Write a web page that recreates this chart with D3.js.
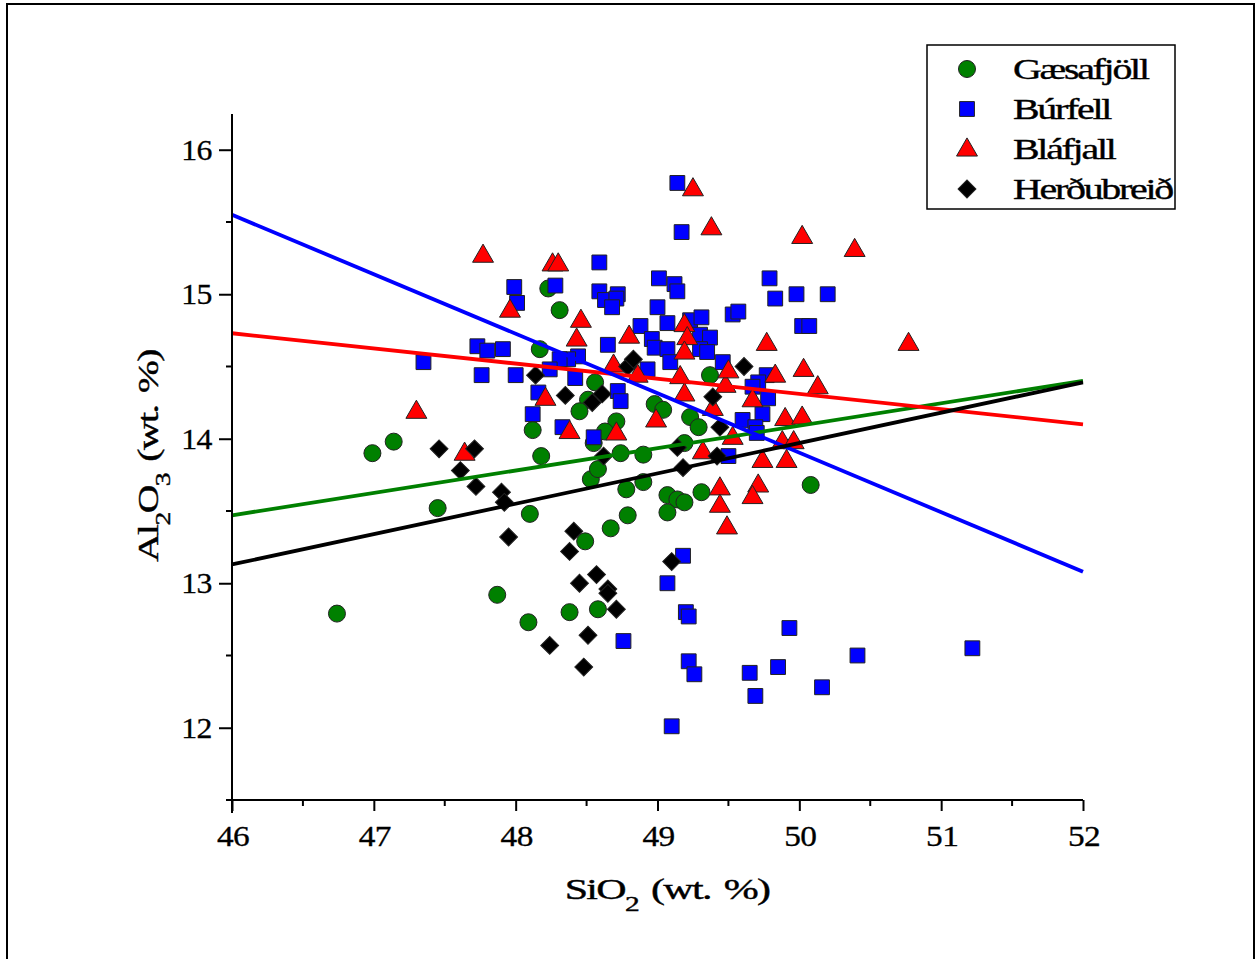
<!DOCTYPE html>
<html><head><meta charset="utf-8">
<script src="https://cdn.jsdelivr.net/npm/d3@7"></script>
<style>
body{margin:0;background:#fff;}
text{font-family:"Liberation Serif","Times New Roman",serif;fill:#000;}
</style></head>
<body><svg id="c" width="1257" height="959"></svg>
<script>
// ---- data (SiO2, Al2O3 wt.%) ----
const gaesafjollX = [46.74,46.99,47.14,47.45,47.87,48.09,48.10,48.12,48.18,48.17,48.23,48.31,48.38,48.58,48.49,48.67,48.79,48.78,48.53,48.58,48.90,49.07,49.14,49.19,49.07,49.31,48.56,48.51,48.45,48.71,48.63,48.55,48.74,48.90,48.98,49.04,49.23,49.29,49.37,49.19,50.08];
const gaesafjollY = [12.79,13.90,13.98,13.52,12.92,12.73,13.48,14.06,13.88,14.62,15.04,14.89,12.80,12.82,13.29,13.38,13.47,13.65,13.72,13.79,13.70,13.61,13.58,13.56,13.49,13.63,14.39,14.27,14.19,14.12,14.05,13.97,13.90,13.89,14.24,14.20,14.15,14.08,14.44,13.97,13.68];

const burfellX = [49.14,49.17,48.59,48.28,49.01,49.12,49.14,48.59,48.63,48.72,48.71,48.68,49.00,49.07,48.88,49.23,49.31,48.96,48.98,49.07,49.09,49.30,49.37,49.30,49.35,48.93,48.65,48.44,48.37,48.31,48.24,48.42,48.72,48.74,48.33,48.55,49.46,49.53,49.57,49.79,49.83,49.98,50.20,50.02,50.07,49.77,49.71,49.67,49.78,49.74,49.60,49.69,49.70,49.50,47.35,47.73,47.80,47.91,47.76,48.00,47.99,48.01,48.16,48.12,49.18,49.07,49.20,49.22,49.93,49.22,49.26,49.65,49.85,49.69,50.16,50.41,51.22,49.10,48.76];
const burfellY = [15.77,15.43,15.22,15.06,15.11,15.07,15.02,15.02,14.96,15.00,14.97,14.91,14.91,14.80,14.78,14.82,14.84,14.69,14.63,14.62,14.53,14.72,14.70,14.62,14.60,14.48,14.65,14.57,14.55,14.55,14.48,14.42,14.33,14.26,14.08,14.01,14.53,14.86,14.88,15.11,14.97,15.00,15.00,14.78,14.78,14.44,14.39,14.36,14.28,14.17,14.13,14.08,14.04,13.88,14.53,14.64,14.61,14.62,14.44,14.44,15.05,14.94,14.32,14.17,13.19,13.00,12.80,12.77,12.69,12.46,12.37,12.38,12.42,12.22,12.28,12.50,12.55,12.01,12.60];

const blafjallX = [47.30,47.64,47.77,47.96,48.26,48.30,48.21,48.46,48.43,48.38,48.71,48.69,48.80,48.86,48.99,49.25,49.38,49.19,49.21,49.19,49.16,49.19,49.39,49.32,49.48,49.50,49.53,49.44,49.44,49.49,49.67,49.77,49.83,49.74,49.91,49.71,49.67,49.88,49.96,49.90,50.02,50.02,50.03,50.13,50.39,50.77];
const blafjallY = [14.19,13.90,15.27,14.89,15.21,15.21,14.28,14.82,14.69,14.05,14.04,14.51,14.71,14.44,14.13,15.73,15.46,14.79,14.70,14.60,14.43,14.31,14.21,13.91,14.37,14.47,14.01,13.66,13.54,13.39,14.27,14.66,14.44,13.85,13.85,13.68,13.60,13.98,13.98,14.14,14.15,15.40,14.48,14.36,15.31,14.66];

const herdubreidX = [47.46,47.71,47.61,47.72,47.90,47.92,47.95,48.14,48.35,48.54,48.61,48.79,48.83,48.62,48.41,48.38,48.57,48.45,48.65,48.65,48.71,48.51,48.24,48.48,49.10,49.18,49.14,49.42,49.44,49.39,49.61];
const herdubreidY = [13.93,13.93,13.78,13.67,13.63,13.56,13.32,14.44,14.30,14.25,14.31,14.50,14.55,13.88,13.36,13.22,13.06,13.00,12.96,12.93,12.82,12.64,12.57,12.42,13.15,13.80,13.94,13.88,14.08,14.29,14.50];

// regression lines: Al2O3 at SiO2 = 46 and 52
const fitX = [46, 52];
const fitGaesafjoll = [13.47, 14.40];
const fitBurfell = [15.55, 13.08];
const fitBlafjall = [14.73, 14.10];
const fitHerdubreid = [13.13, 14.39];

const seriesNames = ["Gæsafjöll","Búrfell","Bláfjall","Herðubreið"];
const xTicks = [46,47,48,49,50,51,52];
const yTicks = [12,13,14,15,16];

// ---- drawing ----
const svg = d3.select("#c");
const x = d3.scaleLinear().domain([46,52]).range([232,1083]);
const y = d3.scaleLinear().domain([11.5,16.25]).range([800,113.6]);

// outer frame
svg.append("rect").attr("x",7).attr("y",4).attr("width",1247).attr("height",970)
  .attr("fill","none").attr("stroke","#000").attr("stroke-width",2);

const series = [
  {name:seriesNames[0], xs:gaesafjollX, ys:gaesafjollY, color:"#008000", shape:d3.symbolCircle, size:227, fit:fitGaesafjoll},
  {name:seriesNames[1], xs:burfellX, ys:burfellY, color:"#0000ff", shape:d3.symbolSquare, size:220, fit:fitBurfell},
  {name:seriesNames[2], xs:blafjallX, ys:blafjallY, color:"#ff0000", shape:d3.symbolTriangle, size:190, fit:fitBlafjall},
  {name:seriesNames[3], xs:herdubreidX, ys:herdubreidY, color:"#000000", shape:d3.symbolSquare, size:160, rot:45, fit:fitHerdubreid}
];

const plot = svg.append("g");
series.forEach(s=>{
  const pts = s.xs.map((v,i)=>[v,s.ys[i]]);
  const sym = d3.symbol().type(s.shape).size(s.size);
  plot.append("g").selectAll("path").data(pts).join("path")
    .attr("d",sym)
    .attr("transform",d=>`translate(${x(d[0])},${y(d[1]) + (s.shape===d3.symbolTriangle?1:0)})` + (s.rot?` rotate(${s.rot})`:""))
    .attr("fill",s.color).attr("stroke","#222").attr("stroke-width",1);
});

// regression lines
const line = d3.line().x(d=>x(d[0])).y(d=>y(d[1]));
[series[0],series[2],series[1],series[3]].forEach(s=>{
  plot.append("path").datum(fitX.map((v,i)=>[v,s.fit[i]]))
    .attr("d",line).attr("fill","none").attr("stroke",s.color).attr("stroke-width",3.8);
});

// axes (lines via d3 axes, labels placed with the same scales)
const xMinor = d3.range(46.5,52,1);
const yMinor = d3.range(12.5,16.1,1);
const gx = svg.append("g").attr("transform","translate(0,800)");
gx.call(d3.axisBottom(x).tickValues(xTicks).tickSize(11).tickFormat(""));
gx.append("g").selectAll("line").data(xMinor).join("line")
  .attr("x1",d=>x(d)).attr("x2",d=>x(d)).attr("y1",0).attr("y2",6).attr("stroke","#000").attr("stroke-width",2);
gx.select(".domain").attr("d","M226,0H1083").attr("stroke-width",2);
gx.selectAll(".tick line").attr("stroke-width",2);

const gy = svg.append("g").attr("transform","translate(232,0)");
gy.call(d3.axisLeft(y).tickValues(yTicks).tickSize(13).tickFormat(""));
gy.append("g").selectAll("line").data(yMinor).join("line")
  .attr("y1",d=>y(d)).attr("y2",d=>y(d)).attr("x1",0).attr("x2",-6).attr("stroke","#000").attr("stroke-width",2);
gy.select(".domain").attr("d","M0,114V813").attr("stroke-width",2);
gy.selectAll(".tick line").attr("stroke-width",2);

// tick labels (slightly wide serif, as in the reference)
svg.append("g").selectAll("g").data(xTicks).join("g")
  .attr("transform",d=>`translate(${x(d)+1},846) scale(1.15,1)`)
  .append("text").attr("text-anchor","middle").style("font-size","29px")
  .attr("stroke","#000").attr("stroke-width",0.3).attr("letter-spacing","-0.5").text(d=>d);
svg.append("g").selectAll("g").data(yTicks).join("g")
  .attr("transform",d=>`translate(212,${y(d)+10}) scale(1.06,1)`)
  .append("text").attr("text-anchor","end").style("font-size","30px")
  .attr("stroke","#000").attr("stroke-width",0.3).attr("letter-spacing","-0.5").text(d=>d);

// axis titles
const xtg = svg.append("g").attr("transform","translate(667,899) scale(1.4,1)");
const xt = xtg.append("text").attr("text-anchor","middle").style("font-size","30px")
  .attr("letter-spacing","-1.2").attr("word-spacing","3").attr("stroke","#000").attr("stroke-width",0.4);
xt.append("tspan").text("SiO");
xt.append("tspan").attr("baseline-shift","sub").style("font-size","21px").text("2");
xt.append("tspan").text(" (wt. %)");

const ytg = svg.append("g").attr("transform","translate(158,456) rotate(-90) scale(1.32,1)");
const yt = ytg.append("text").attr("text-anchor","middle").style("font-size","30px")
  .attr("letter-spacing","-1.2").attr("word-spacing","3").attr("stroke","#000").attr("stroke-width",0.4);
yt.append("tspan").text("Al");
yt.append("tspan").attr("baseline-shift","sub").style("font-size","21px").text("2");
yt.append("tspan").text("O");
yt.append("tspan").attr("baseline-shift","sub").style("font-size","21px").text("3");
yt.append("tspan").text(" (wt. %)");

// legend
const lg = svg.append("g");
lg.append("rect").attr("x",927).attr("y",45).attr("width",248).attr("height",164)
  .attr("fill","#fff").attr("stroke","#000").attr("stroke-width",1.5);
series.forEach((s,i)=>{
  const cy = 69 + i*40;
  lg.append("path").attr("d",d3.symbol().type(s.shape).size(s.size)())
    .attr("transform",`translate(967,${cy + (s.shape===d3.symbolTriangle?1:0)})`+(s.rot?` rotate(${s.rot})`:""))
    .attr("fill",s.color).attr("stroke","#222").attr("stroke-width",1);
  lg.append("g").attr("transform",`translate(1013,${cy+10}) scale(1.33,1)`)
    .append("text").style("font-size","30px").attr("letter-spacing","-1.7")
    .attr("stroke","#000").attr("stroke-width",0.4).text(s.name);
});
</script></body></html>
